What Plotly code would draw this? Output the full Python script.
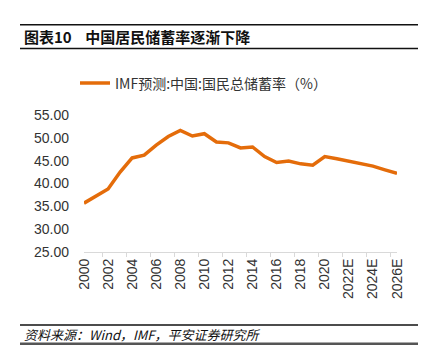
import plotly.graph_objects as go

years = ["2000", "2001", "2002", "2003", "2004", "2005", "2006", "2007", "2008", "2009",
         "2010", "2011", "2012", "2013", "2014", "2015", "2016", "2017", "2018", "2019",
         "2020", "2021E", "2022E", "2023E", "2024E", "2025E", "2026E"]
savings_rate = [35.7, 37.3, 38.8, 42.5, 45.6, 46.2, 48.4, 50.3, 51.6, 50.4,
                50.9, 49.1, 48.9, 47.8, 48.0, 45.9, 44.6, 44.9, 44.3, 44.0,
                45.9, 45.4, 44.9, 44.4, 43.8, 43.0, 42.2]
tick_labels = years[::2]
y_ticks = [25, 30, 35, 40, 45, 50, 55]

W, H = 426, 355
FONT = "Liberation Sans, Arial, Noto Sans CJK SC, sans-serif"
CJK = "Noto Sans CJK SC, Liberation Sans, sans-serif"

fig = go.Figure()
fig.add_trace(go.Scatter(
    x=years, y=savings_rate, mode="lines",
    name="IMF预测:中国:国民总储蓄率（%）",
    line=dict(color="#E46C0A", width=3.5),
))

L, R, T, B = 76, 389, 106.7, 244.3

fig.update_layout(
    width=W, height=H,
    margin=dict(l=L, r=W - R, t=T, b=H - B, pad=0),
    paper_bgcolor="white", plot_bgcolor="white",
    font=dict(family=FONT, size=14, color="#333333"),
    showlegend=True,
    legend=dict(orientation="h", x=-9 / (R - L), xanchor="left", y=1.0 + (T - 75) / (B - T), yanchor="middle",
                font=dict(family=CJK, size=14, color="#333333"), itemwidth=30,
                bgcolor="rgba(0,0,0,0)"),
    xaxis=dict(
        type="category", categoryorder="array", categoryarray=years,
        tickmode="array", tickvals=tick_labels, ticktext=tick_labels,
        tickangle=-90, showgrid=False, showline=True, linecolor="#D9D9D9", linewidth=1,
        ticks="outside", ticklen=4, tickcolor="#D9D9D9", tickson="boundaries",
        tickfont=dict(size=14, color="#333333"), zeroline=False,
    ),
    yaxis=dict(
        range=[25, 55], tickmode="array", tickvals=y_ticks,
        ticktext=[f"{v:.2f}" for v in y_ticks], showgrid=False, showline=False,
        zeroline=False, ticks="", ticklabelstandoff=14,
        tickfont=dict(size=14, color="#333333"),
    ),
)

lines = [(16, 1.5, "#111111"), (40, 1.5, "#111111"), (317.5, 1.5, "#111111"), (336.5, 2.5, "#555555")]
for yy, w, c in lines:
    fig.add_shape(type="line", xref="paper", yref="paper",
                  x0=(12 - L) / (R - L), x1=(411 - L) / (R - L),
                  y0=(H - yy - (H - B)) / (B - T), y1=(H - yy - (H - B)) / (B - T),
                  line=dict(color=c, width=w))

def ann(text, x, y, size, bold=False, italic=False):
    fig.add_annotation(text=text, xref="paper", yref="paper",
                       x=(x - L) / (R - L), y=(H - y - (H - B)) / (B - T),
                       xanchor="left", yanchor="middle", showarrow=False,
                       font=dict(family=CJK, size=size, color="#111111",
                                 weight="bold" if bold else "normal",
                                 style="italic" if italic else "normal"))

ann("图表10&nbsp;&nbsp;&nbsp;&nbsp;中国居民储蓄率逐渐下降", 14, 28, 15, bold=True)
ann("资料来源：Wind，IMF，平安证券研究所", 14, 327, 13, italic=True)

fig.write_html("out.html")
